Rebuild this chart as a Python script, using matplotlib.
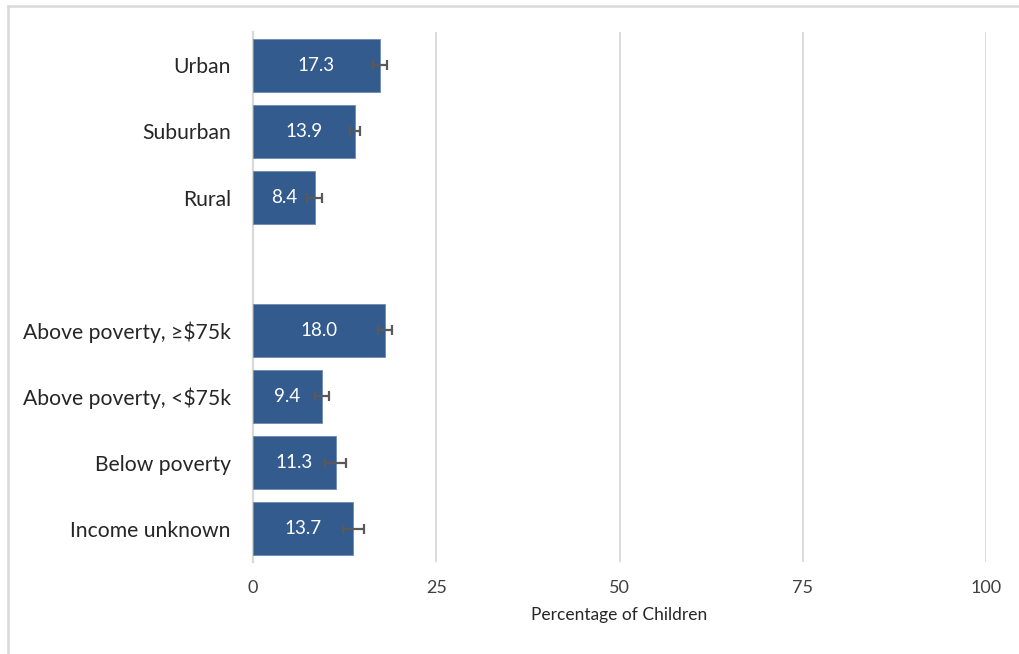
import matplotlib
matplotlib.use("Agg")
import matplotlib.pyplot as plt
from matplotlib.lines import Line2D

plt.rcParams['font.family'] = ['Lato', 'DejaVu Sans']

# top to bottom, None marks the empty slot between groups
categories = ["Urban", "Suburban", "Rural", None,
              "Above poverty, \u2265$75k", "Above poverty, <$75k",
              "Below poverty", "Income unknown"]
values = [17.3, 13.9, 8.4, None, 18.0, 9.4, 11.3, 13.7]
errors = [0.95, 0.7, 1.0, None, 0.95, 0.95, 1.45, 1.4]
x_ticks = [0, 25, 50, 75, 100]

BAR_COLOR = "#335b8e"
GRID_COLOR = "#d9d9d9"

fig = plt.figure(figsize=(10.19, 6.54), dpi=100)
ax = fig.add_axes([253 / 1019, 1 - 562 / 654, (986 - 253) / 1019, (562 - 32) / 654])

pos = [i for i, c in enumerate(categories) if c is not None]
vals = [values[i] for i in pos]
errs = [errors[i] for i in pos]
labels = [categories[i] for i in pos]

ax.barh(pos, vals, height=0.8, color=BAR_COLOR, edgecolor="#6d8bb3",
        linewidth=0.6, zorder=3)
ax.errorbar(vals, pos, xerr=errs, fmt="none", ecolor="#595959",
            elinewidth=1.6, capsize=3.8, capthick=1.6, zorder=4)

for p, v in zip(pos, vals):
    ax.text(v / 2, p, f"{v:.1f}", color="white", ha="center", va="center",
            fontsize=13.5, zorder=5)

ax.set_ylim(len(categories) - 0.5, -0.5)
ax.set_xlim(0, 100)
ax.set_yticks(pos)
ax.set_yticklabels(labels, fontsize=15.2, color="#262626")
ax.set_xticks(x_ticks)
ax.set_xticklabels([str(t) for t in x_ticks], fontsize=13, color="#404040")
ax.tick_params(axis="y", length=0, pad=16)
ax.tick_params(axis="x", length=0, pad=13)
ax.set_xlabel("Percentage of Children", fontsize=12.5, color="#262626", labelpad=8)

ax.grid(axis="x", color=GRID_COLOR, linewidth=1.3, zorder=0)
for side in ["top", "right", "bottom"]:
    ax.spines[side].set_visible(False)
ax.spines["left"].set_color(GRID_COLOR)
ax.spines["left"].set_linewidth(1.6)
ax.spines["left"].set_zorder(2)

# light frame around the chart area
fig.add_artist(Line2D([8 / 1019, 1], [1 - 6 / 654, 1 - 6 / 654],
                      color=GRID_COLOR, linewidth=1.8, transform=fig.transFigure))
fig.add_artist(Line2D([8 / 1019, 8 / 1019], [0, 1 - 6 / 654],
                      color=GRID_COLOR, linewidth=1.8, transform=fig.transFigure))

fig.savefig("out.png", dpi=100)
